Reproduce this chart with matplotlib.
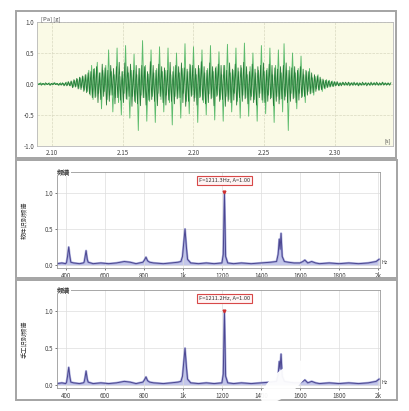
import numpy as np
import matplotlib
matplotlib.use("Agg")
import matplotlib.pyplot as plt
from matplotlib.patches import Rectangle, Ellipse

plt.rcParams['font.family'] = ['Noto Sans CJK SC', 'DejaVu Sans']

# ---------------- data ----------------
t_start = 2.090
dt = 0.001
# light-green trace (large spikes)
wave = [
    0.01, -0.01, 0.02, -0.01, 0.01, -0.02, 0.01, -0.01, 0.02, -0.02,
    0.01, -0.01, 0.02, -0.01, 0.01, -0.02, 0.02, -0.01, 0.01, -0.02,
    0.03, -0.02, 0.02, -0.03, 0.04,
    -0.05, 0.06, -0.04, 0.08, -0.07, 0.10, -0.06, 0.12, -0.10, 0.15,
    -0.12, 0.22, -0.18, 0.30, -0.25,
    0.25, -0.20, 0.35, -0.15, 0.18, -0.40, 0.22, -0.12, 0.30, -0.25,
    0.55, -0.18, 0.20, -0.45, 0.15, -0.22, 0.58, -0.30, 0.12, -0.50,
    0.20, -0.15, 0.62, -0.25, 0.18, -0.55, 0.22, -0.20, 0.48, -0.30,
    0.15, -0.75, 0.25, -0.18, 0.70, -0.22, 0.30, -0.60, 0.16, -0.28,
    0.55, -0.20, 0.18, -0.62, 0.25, -0.15, 0.60, -0.25, 0.20, -0.45,
    0.22, -0.18, 0.58, -0.30, 0.15, -0.66, 0.28, -0.20, 0.50, -0.22,
    0.18, -0.55, 0.25, -0.15, 0.65, -0.28, 0.20, -0.48, 0.30, -0.18,
    0.60, -0.22, 0.15, -0.62, 0.25, -0.20, 0.55, -0.30, 0.18, -0.50,
    0.25, -0.16, 0.62, -0.22, 0.20, -0.58, 0.28, -0.18, 0.52, -0.25,
    0.15, -0.60, 0.30, -0.20, 0.64, -0.25, 0.18, -0.45, 0.22, -0.15,
    0.58, -0.28, 0.20, -0.55, 0.26, -0.18, 0.66, -0.22, 0.15, -0.52,
    0.28, -0.20, 0.50, -0.25, 0.18, -0.60, 0.22, -0.15, 0.62, -0.30,
    0.20, -0.48, 0.25, -0.18, 0.58, -0.22, 0.15, -0.62, 0.30, -0.20,
    0.55, -0.25, 0.18, -0.45, 0.65, -0.20, 0.22, -0.75, 0.28, -0.15,
    0.50, -0.22, 0.18, -0.40, 0.25, -0.15, 0.45, -0.20, 0.15, -0.30,
    0.20, -0.12, 0.25, -0.15, 0.10, -0.18, 0.12, -0.08, 0.15, -0.10,
    0.08, -0.12, 0.06, -0.08, 0.07, -0.05, 0.06, -0.04, 0.05, -0.04,
    0.03, -0.02, 0.02, -0.03, 0.02, -0.01, 0.02, -0.02, 0.01, -0.02,
    0.02, -0.01, 0.02, -0.02, 0.01, -0.01, 0.02, -0.02, 0.01, -0.02,
    0.01, -0.01, 0.02, -0.01, 0.01, -0.02, 0.01, -0.01, 0.02, -0.01,
    0.01, -0.02, 0.01, -0.01, 0.02, -0.01, 0.01, -0.01, 0.01, -0.01,
]
# dark-green trace (dense core)
wave_core = [
    -0.01, 0.01, -0.02, 0.01, -0.01, 0.02, -0.01, 0.01, -0.02, 0.01,
    -0.01, 0.02, -0.01, 0.01, -0.02, 0.01, -0.02, 0.02, -0.03, 0.02,
    -0.03, 0.04, -0.03, 0.05, -0.06,
    0.07, -0.05, 0.09, -0.08, 0.11, -0.09, 0.13, -0.12, 0.15, -0.14,
    0.18, -0.16, 0.20, -0.22, 0.24,
    -0.22, 0.28, -0.30, 0.18, -0.25, 0.32, -0.20, 0.26, -0.34, 0.22,
    -0.28, 0.30, -0.18, 0.25, -0.32, 0.28, -0.22, 0.35, -0.26, 0.20,
    -0.30, 0.34, -0.24, 0.28, -0.20, 0.32, -0.36, 0.22, -0.28, 0.30,
    -0.32, 0.25, -0.35, 0.30, -0.22, 0.28, -0.34, 0.20, -0.26, 0.36,
    -0.25, 0.30, -0.28, 0.22, -0.35, 0.32, -0.20, 0.28, -0.30, 0.26,
    -0.34, 0.22, -0.26, 0.35, -0.28, 0.20, -0.32, 0.30, -0.24, 0.28,
    -0.22, 0.34, -0.30, 0.26, -0.36, 0.24, -0.28, 0.32, -0.20, 0.30,
    -0.28, 0.25, -0.34, 0.30, -0.22, 0.36, -0.26, 0.28, -0.32, 0.22,
    -0.30, 0.34, -0.24, 0.28, -0.35, 0.26, -0.20, 0.32, -0.28, 0.30,
    -0.25, 0.30, -0.36, 0.22, -0.28, 0.34, -0.30, 0.24, -0.26, 0.32,
    -0.34, 0.26, -0.22, 0.30, -0.28, 0.35, -0.24, 0.28, -0.32, 0.20,
    -0.26, 0.32, -0.30, 0.24, -0.34, 0.28, -0.22, 0.30, -0.26, 0.34,
    -0.30, 0.22, -0.28, 0.32, -0.24, 0.30, -0.35, 0.26, -0.28, 0.24,
    -0.32, 0.28, -0.24, 0.30, -0.26, 0.34, -0.30, 0.22, -0.28, 0.26,
    -0.24, 0.28, -0.30, 0.22, -0.26, 0.28, -0.22, 0.24, -0.20, 0.22,
    -0.18, 0.20, -0.16, 0.18, -0.14, 0.15, -0.12, 0.13, -0.10, 0.11,
    -0.09, 0.08, -0.07, 0.06, -0.06, 0.05, -0.05, 0.04, -0.04, 0.04,
    -0.03, 0.04, -0.03, 0.02, -0.03, 0.03, -0.02, 0.03, -0.02, 0.03,
    -0.03, 0.02, -0.02, 0.03, -0.02, 0.02, -0.03, 0.02, -0.02, 0.03,
    -0.02, 0.02, -0.03, 0.02, -0.02, 0.03, -0.02, 0.02, -0.02, 0.03,
    -0.02, 0.02, -0.02, 0.03, -0.02, 0.02, -0.02, 0.02, -0.02, 0.02,
]
wave_xticks = [2.10, 2.15, 2.20, 2.25, 2.30]
wave_yticks = [-1.0, -0.5, 0.0, 0.5, 1.0]

spec_freq = [355, 380, 400, 404, 409, 415, 421, 426, 440, 470, 490, 494, 498,
             504, 510, 515, 540, 580, 620, 660, 700, 730, 760, 795, 803, 811,
             819, 830, 850, 900, 940, 975, 990, 998, 1004, 1011, 1018, 1024,
             1040, 1080, 1120, 1160, 1200, 1207, 1213, 1219, 1230, 1260, 1300,
             1350, 1400, 1450, 1480, 1488, 1494, 1498, 1503, 1509, 1520, 1540,
             1570, 1600, 1615, 1625, 1640, 1660, 1680, 1700, 1750, 1800, 1850,
             1900, 1950, 1990, 2005]
spec_a = [0.02, 0.03, 0.02, 0.04, 0.12, 0.25, 0.12, 0.04, 0.03, 0.02, 0.03,
          0.04, 0.10, 0.20, 0.08, 0.04, 0.02, 0.03, 0.02, 0.03, 0.05, 0.04,
          0.02, 0.04, 0.07, 0.11, 0.06, 0.04, 0.03, 0.02, 0.03, 0.04, 0.05,
          0.12, 0.30, 0.50, 0.25, 0.08, 0.03, 0.02, 0.03, 0.02, 0.03, 0.15,
          1.00, 0.12, 0.03, 0.02, 0.03, 0.02, 0.03, 0.04, 0.05, 0.15, 0.36,
          0.22, 0.44, 0.12, 0.05, 0.04, 0.03, 0.03, 0.05, 0.07, 0.03, 0.05,
          0.03, 0.02, 0.03, 0.02, 0.03, 0.02, 0.03, 0.05, 0.08]
spec_b = [0.02, 0.03, 0.02, 0.04, 0.12, 0.24, 0.11, 0.04, 0.03, 0.02, 0.03,
          0.04, 0.09, 0.19, 0.08, 0.04, 0.02, 0.03, 0.02, 0.03, 0.05, 0.04,
          0.02, 0.04, 0.07, 0.11, 0.06, 0.04, 0.03, 0.02, 0.03, 0.04, 0.05,
          0.12, 0.30, 0.50, 0.25, 0.08, 0.03, 0.02, 0.03, 0.02, 0.03, 0.15,
          1.00, 0.12, 0.03, 0.02, 0.03, 0.02, 0.03, 0.04, 0.05, 0.14, 0.32,
          0.22, 0.42, 0.12, 0.05, 0.04, 0.03, 0.03, 0.05, 0.07, 0.03, 0.05,
          0.03, 0.02, 0.03, 0.02, 0.03, 0.02, 0.03, 0.05, 0.08]
spec_xticks = [400, 600, 800, 1000, 1200, 1400, 1600, 1800, 2000]
spec_xlabels = ['400', '600', '800', '1k', '1200', '1400', '1600', '1800', '2k']
spec_yticks = [0.0, 0.5, 1.0]
peak_f = 1213
notes = ['F=1211.3Hz, A=1.00', 'F=1211.2Hz, A=1.00']
ylabels = ['软件识别频谱', '手工识别频谱']

# ---------------- figure ----------------
W, H = 409, 411
fig = plt.figure(figsize=(W / 100, H / 100), dpi=100)
fig.patch.set_facecolor('white')

def fx(px):
    return px / W

def fy(py):
    return 1 - py / H

# panel frames
for (x0, y0, x1, y1) in [(16, 11, 396, 158), (16, 160, 397, 278), (16, 280, 397, 400)]:
    fig.patches.append(Rectangle((fx(x0), fy(y1)), fx(x1) - fx(x0), fy(y0) - fy(y1),
                                 transform=fig.transFigure, fill=False,
                                 edgecolor='#a4a4a4', lw=1.4))

tick_fs = 4.5
# ---- waveform ----
ax1 = fig.add_axes([fx(37), fy(146), fx(393) - fx(37), fy(22) - fy(146)])
ax1.set_facecolor('#fafae6')
t = t_start + dt * np.arange(len(wave))
ax1.plot(t, wave, color='#4cb560', lw=0.65, alpha=0.9)
ax1.plot(t + dt / 2, wave_core, color='#17702c', lw=0.6, alpha=0.9)
ax1.set_xlim(2.0894, 2.341)
ax1.set_ylim(-1.0, 1.0)
ax1.set_xticks(wave_xticks)
ax1.set_xticklabels(['%.2f' % v for v in wave_xticks])
ax1.set_yticks(wave_yticks)
ax1.set_yticklabels(['%.1f' % v for v in wave_yticks])
ax1.grid(True, color='#d8d8c0', lw=0.5, ls='--')
ax1.tick_params(labelsize=tick_fs, length=0, pad=2, colors='#444444')
for s in ax1.spines.values():
    s.set_color('#b8b8b8')
    s.set_linewidth(0.6)
ax1.text(0.01, 1.0, '[Pa] [g]', transform=ax1.transAxes, fontsize=4.2,
         ha='left', va='bottom', color='#444444')
ax1.text(0.995, 0.02, '[s]', transform=ax1.transAxes, fontsize=4.0,
         ha='right', va='bottom', color='#444444')

# ---- spectra ----
spec_axes = [
    [fx(57), fy(268), fx(380) - fx(57), fy(172) - fy(268)],
    [fx(57), fy(388), fx(380) - fx(57), fy(290) - fy(388)],
]
for i, (rect, amps) in enumerate(zip(spec_axes, [spec_a, spec_b])):
    ax = fig.add_axes(rect)
    ax.set_facecolor('white')
    ax.fill_between(spec_freq, 0, amps, color='#c3c6ea', lw=0)
    ax.plot(spec_freq, amps, color='#8c90d0', lw=1.6, alpha=0.7)
    ax.plot(spec_freq, amps, color='#4b4690', lw=0.7)
    ax.set_xlim(355, 2010)
    ax.set_ylim(-0.04, 1.29)
    ax.set_xticks(spec_xticks)
    ax.set_xticklabels(spec_xlabels)
    ax.set_yticks(spec_yticks)
    ax.set_yticklabels(['%.1f' % v for v in spec_yticks])
    ax.grid(True, color='#dddddd', lw=0.5)
    ax.tick_params(labelsize=tick_fs, length=1.5, width=0.5, pad=1.5, colors='#444444')
    for s in ax.spines.values():
        s.set_color('#999999')
        s.set_linewidth(0.6)
    ax.text(0.0, 1.0, '频谱', transform=ax.transAxes, fontsize=4.8,
            ha='left', va='center', color='#333333', fontweight='bold',
            bbox=dict(facecolor='white', edgecolor='none', pad=0.3))
    ax.text(1.005, 0.03, 'Hz', transform=ax.transAxes, fontsize=3.8,
            ha='left', va='bottom', color='#444444')
    ax.plot([peak_f], [1.01], marker='v', color='#d03030', ms=2, lw=0)
    ax.text(peak_f, 1.175, notes[i], fontsize=4.1, ha='center', va='center',
            color='#333333',
            bbox=dict(facecolor='#fff4f4', edgecolor='#d84848', lw=0.8,
                      boxstyle='square,pad=0.35'))
    fig.text(fx(25), rect[1] + rect[3] / 2, ylabels[i], rotation=90,
             fontsize=4.5, ha='center', va='center', color='#333333')

# watermark swoosh over the lower-right spectrum
fig.patches.append(Ellipse((fx(285), fy(382)), fx(60), fy(0) - fy(24), angle=40,
                           transform=fig.transFigure, facecolor='white',
                           edgecolor='none', alpha=0.95, zorder=10))

fig.savefig('out.png', dpi=100, facecolor='white')
